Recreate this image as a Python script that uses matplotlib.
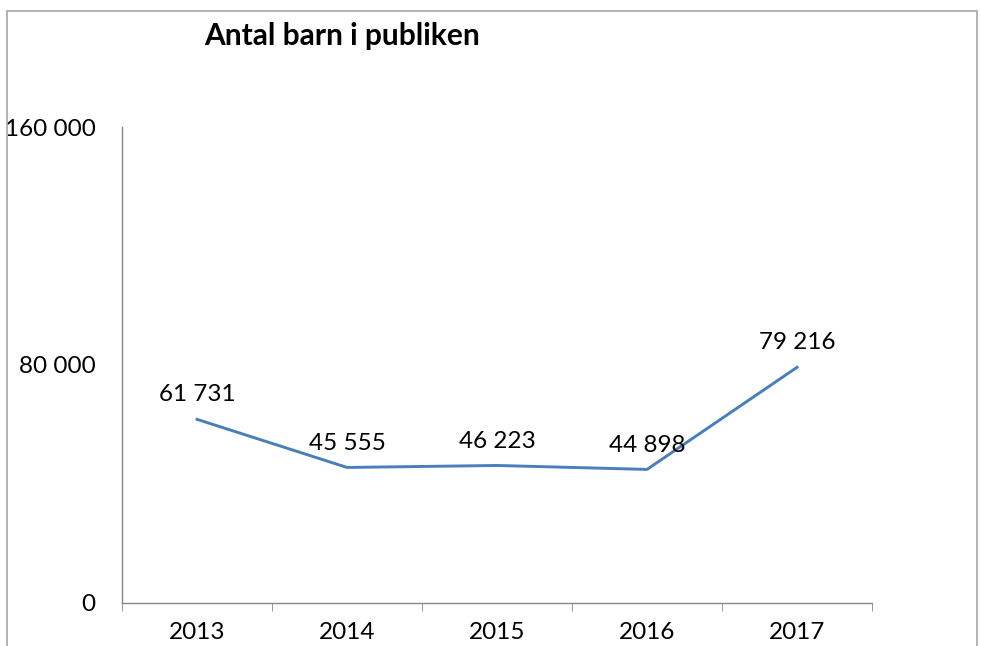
import matplotlib.pyplot as plt
from matplotlib.patches import Rectangle

years = ["2013", "2014", "2015", "2016", "2017"]
children = [61731, 45555, 46223, 44898, 79216]
y_ticks = [0, 80000, 160000]


def fmt(v):
    return f"{v:,}".replace(",", " ")


plt.rcParams['font.family'] = ['Lato', 'DejaVu Sans']

fig = plt.figure(figsize=(9.81, 6.46), dpi=100)
ax = fig.add_axes([0.1244, 0.0666, 0.7645, 0.7368])

xs = list(range(len(years)))
ax.plot(xs, children, color="#4A7EBB", linewidth=2.1)
for x, v in zip(xs, children):
    ax.annotate(fmt(v), (x, v), xytext=(0, 10), textcoords="offset points",
                ha="center", va="bottom", fontsize=17.5)

ax.set_xlim(-0.5, len(years) - 0.5)
ax.set_ylim(0, 160000)
ax.set_yticks(y_ticks)
ax.set_yticklabels([fmt(t) for t in y_ticks], fontsize=17.5)
ax.set_xticks(xs)
ax.set_xticklabels(years, fontsize=17.5)
ax.tick_params(axis="x", which="major", length=0, pad=14)
ax.set_xticks([x + 0.5 for x in [-1] + xs], minor=True)
ax.tick_params(axis="x", which="minor", length=6, color="#868686", direction="out")
ax.tick_params(axis="y", length=0, pad=19)
for lbl in ax.get_yticklabels():
    lbl.set_y(lbl.get_position()[1])
    lbl.set_verticalalignment("center_baseline")

for s in ["top", "right"]:
    ax.spines[s].set_visible(False)
for s in ["left", "bottom"]:
    ax.spines[s].set_color("#868686")
    ax.spines[s].set_linewidth(1)

fig.text(0.349, 0.944, "Antal barn i publiken", ha="center", va="center",
         fontsize=21.5, fontweight="bold")

fig.patches.append(Rectangle((7 / 981, -0.05), 970 / 981, 1.05 - 11 / 646,
                             transform=fig.transFigure, fill=False,
                             edgecolor="#a6a6a6", linewidth=1.2))

fig.savefig("out.png", dpi=100)
